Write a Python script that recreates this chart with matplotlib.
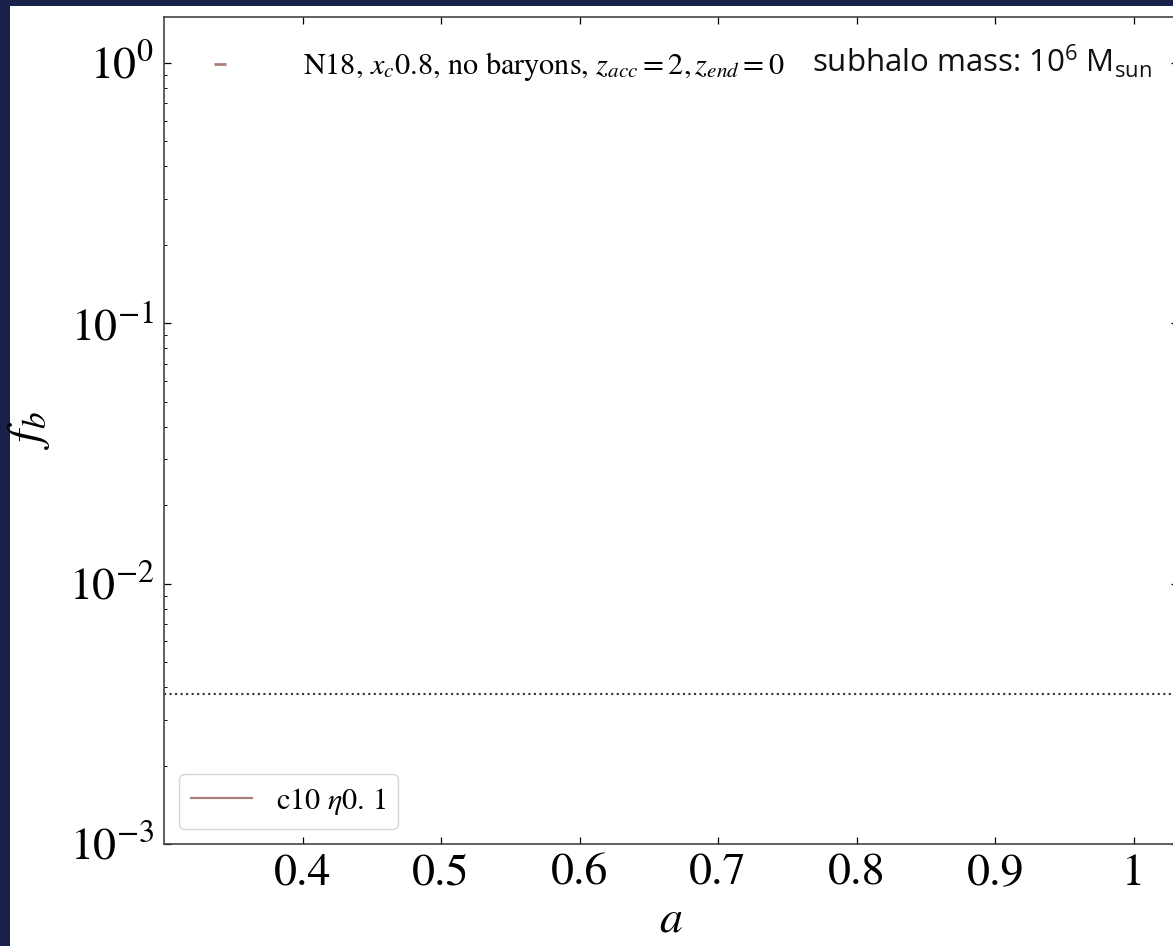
import matplotlib
matplotlib.use("Agg")
import matplotlib.pyplot as plt
from matplotlib.lines import Line2D
from matplotlib.patches import Rectangle
from matplotlib.ticker import FixedLocator, LogLocator, NullFormatter

# ---- data ----
x_ticks = [0.4, 0.5, 0.6, 0.7, 0.8, 0.9, 1.0]
x_tick_labels = ['0.4', '0.5', '0.6', '0.7', '0.8', '0.9', '1']
y_major = [1e-3, 1e-2, 1e-1, 1e0]
x_range = (0.3, 1.032)
y_range = (1e-3, 1.5)
fb_floor = 3.77e-3          # dotted reference level
a_track = []                # c10 eta0.1 track: nothing falls inside the window
fb_track = []
n18_label = r'N18, $x_c$0.8, no baryons, $z_{acc}=2, z_{end}=0$'
track_label = r'c10 $\eta0.\,1$'
mass_note = r'subhalo mass: $\mathregular{10^6\ M_{sun}}$'

track_color = '#8c564b'

plt.rcParams['font.family'] = 'STIXGeneral'
plt.rcParams['mathtext.fontset'] = 'stix'

W, H = 1173, 946
fig = plt.figure(figsize=(W / 100, H / 100), dpi=100, facecolor='#18214a')
# white slide panel the plot sits on
fig.add_artist(Rectangle((10 / W, 0), 1, 1 - 6 / H, transform=fig.transFigure,
                         facecolor='white', edgecolor='none', zorder=-5))

ax = fig.add_axes([164 / W, 1 - 844 / H, (1178 - 164) / W, (844 - 17) / H])
ax.set_yscale('log')

ax.axhline(fb_floor, color='#333333', ls=':', lw=1.5)
track, = ax.plot(a_track, fb_track, color=track_color, alpha=0.75, lw=1.6, label=track_label)

ax.set_xlim(*x_range)
ax.set_ylim(*y_range)
ax.xaxis.set_major_locator(FixedLocator(x_ticks))
ax.set_xticklabels(x_tick_labels)
ax.yaxis.set_major_locator(FixedLocator(y_major))
ax.yaxis.set_minor_locator(LogLocator(base=10, subs=range(2, 10), numticks=20))
ax.yaxis.set_minor_formatter(NullFormatter())

ax.tick_params(which='both', direction='in', top=True, right=True, labelsize=33, pad=7)
ax.tick_params(which='major', length=5, width=0.9)
ax.tick_params(which='minor', length=2.5, width=0.7)
for s in ax.spines.values():
    s.set_linewidth(1.2)
    s.set_edgecolor('#444444')

ax.set_xlabel('$a$', fontsize=33, labelpad=4)
ax.set_ylabel('$f_b$', fontsize=34, labelpad=12)

# upper legend: model description, short dash handle
n18_handle = Line2D([], [], color=track_color, alpha=0.75, ls='none', marker='_',
                    markersize=9, markeredgewidth=2)
leg_top = ax.legend([n18_handle], [n18_label], loc='upper left', frameon=False,
                    fontsize=21.8, handlelength=1.5, handletextpad=2.0,
                    borderaxespad=0.7)
ax.add_artist(leg_top)
ax.legend(handles=[track], loc='lower left', fontsize=21.8)

fig.text(812 / W, 1 - 72 / H, mass_note, fontsize=22.5, family='Open Sans',
         va='baseline', ha='left', color='#111111')

fig.savefig('out.png', dpi=100, facecolor=fig.get_facecolor())
